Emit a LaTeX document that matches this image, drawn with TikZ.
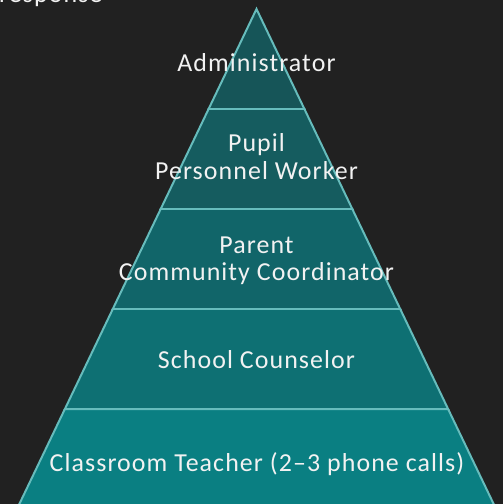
\documentclass[tikz,border=0pt]{standalone}
\usepackage{fontspec}
\setmainfont{Carlito}[LetterSpace=4.2]
\definecolor{bg}{HTML}{212121}
\definecolor{lA}{HTML}{165558}
\definecolor{lB}{HTML}{155C5F}
\definecolor{lC}{HTML}{116569}
\definecolor{lD}{HTML}{0E7073}
\definecolor{lE}{HTML}{0A7F82}
\definecolor{edge}{HTML}{66BCBC}
\definecolor{txt}{HTML}{F2F2F2}
\tikzset{
  lab/.style={text=txt, font=\fontsize{26}{28}\selectfont, align=center, inner sep=0pt},
  layer/.style={draw=edge, line width=2pt, line join=miter},
}
\begin{document}
\begin{tikzpicture}[x=1bp,y=-1bp]
\fill[bg] (0,0) rectangle (503,504);
\useasboundingbox (0,0) rectangle (503,504);
\begin{scope}
\clip (0,0) rectangle (503,504);
% x at y: left = 256.5 - 0.479*(y-9)
\coordinate (apex) at (256.5,9);
\filldraw[layer, fill=lA] (apex) -- (208.6,109) -- (304.4,109) -- cycle;
\filldraw[layer, fill=lB] (208.6,109) -- (160.7,209) -- (352.3,209) -- (304.4,109) -- cycle;
\filldraw[layer, fill=lC] (160.7,209) -- (112.8,309) -- (400.2,309) -- (352.3,209) -- cycle;
\filldraw[layer, fill=lD] (112.8,309) -- (64.9,409) -- (448.1,409) -- (400.2,309) -- cycle;
\filldraw[layer, fill=lE] (64.9,409) -- (11.2,521) -- (501.8,521) -- (448.1,409) -- cycle;
\end{scope}
\node[lab, anchor=base west] (resp) at (-1,3) {response};
\node[lab, anchor=base] (adm) at (256.5,72) {Administrator};
\node[lab, anchor=base] (pupil) at (256.5,152) {Pupil};
\node[lab, anchor=base] (ppw) at (256.5,180) {Personnel Worker};
\node[lab, anchor=base] (par) at (256.5,253) {Parent};
\node[lab, anchor=base] (pcc) at (256.5,280) {Community Coordinator};
\node[lab, anchor=base] (sc) at (256.5,368) {School Counselor};
\node[lab, anchor=base] (ct) at (257,471) {Classroom Teacher (2–3 phone calls)};
\end{tikzpicture}
\end{document}
